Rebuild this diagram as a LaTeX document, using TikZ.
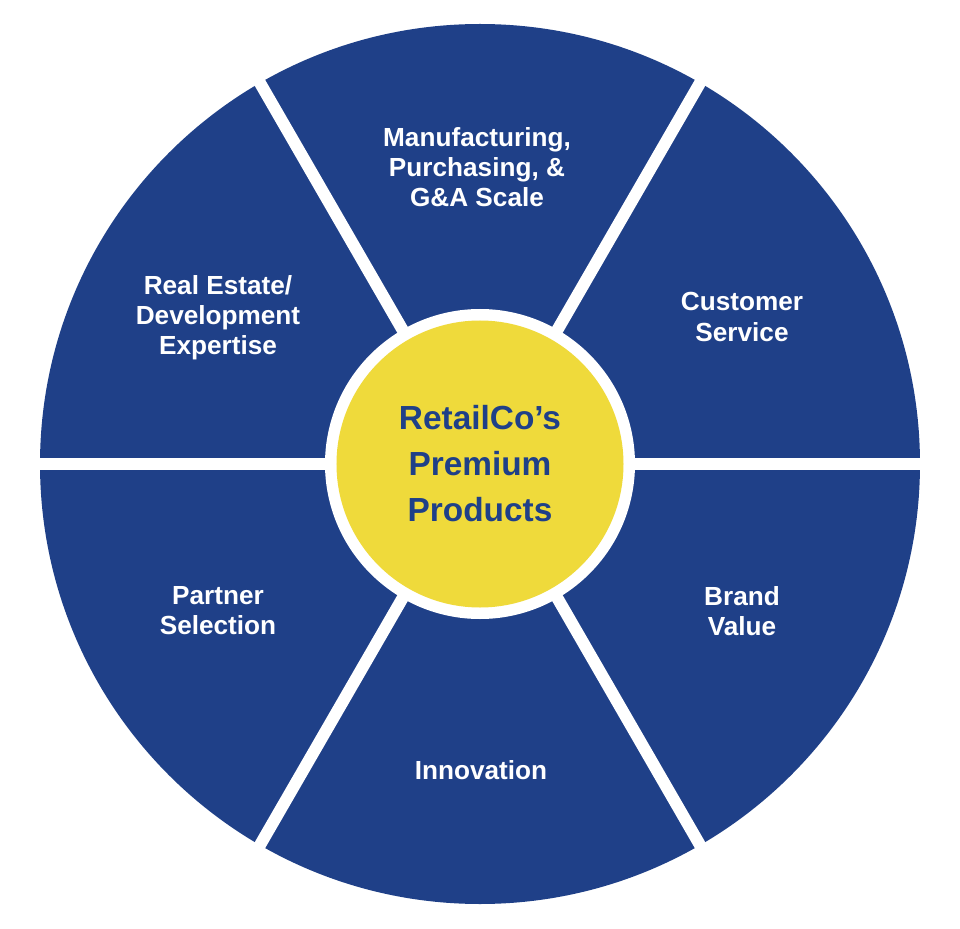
\documentclass[tikz,border=0pt]{standalone}
\usepackage{fontspec}
\setmainfont{Liberation Sans}
\usepackage{xcolor}
\definecolor{WheelBlue}{HTML}{1F4088}
\definecolor{HubYellow}{HTML}{EFDA3B}
\usepackage{tikz}
\usetikzlibrary{positioning}

\begin{document}
\begin{tikzpicture}[
  seg/.style={text=white, align=center, font=\fontsize{14.9}{17.1}\selectfont\bfseries},
  hub/.style={text=WheelBlue, align=center, font=\fontsize{19.0}{26.2}\selectfont\bfseries},
  gap/.style={draw=white, line width=0.24cm}
]
\useasboundingbox (-9.6,-9.28) rectangle (9.6,9.28);

%% ---- Outer wheel ----
\fill[WheelBlue] (0,0) circle (8.8);

%% ---- Separators between the six segments ----
\foreach \a in {0,60,...,300}
  \draw[gap] (0,0) -- (\a:9.0);

%% ---- Hub ----
\fill[white] (0,0) circle (3.1);
\fill[HubYellow] (0,0) circle (2.87);

%% ---- Segment labels ----
\node[seg] (scale)    at (-0.06, 5.94) {Manufacturing,\\Purchasing, \&\\G\&A Scale};
\node[seg] (service)  at ( 5.24, 2.94) {Customer\\Service};
\node[seg] (brand)    at ( 5.24,-2.94) {Brand\\Value};
\node[seg] (innov)    at ( 0.02,-6.12) {Innovation};
\node[seg] (partner)  at (-5.24,-2.94) {Partner\\Selection};
\node[seg] (estate)   at (-5.24, 2.92) {Real Estate/\\Development\\Expertise};

%% ---- Hub label ----
\node[hub] (premium) at (0,0) {RetailCo’s\\Premium\\Products};

\end{tikzpicture}
\end{document}
